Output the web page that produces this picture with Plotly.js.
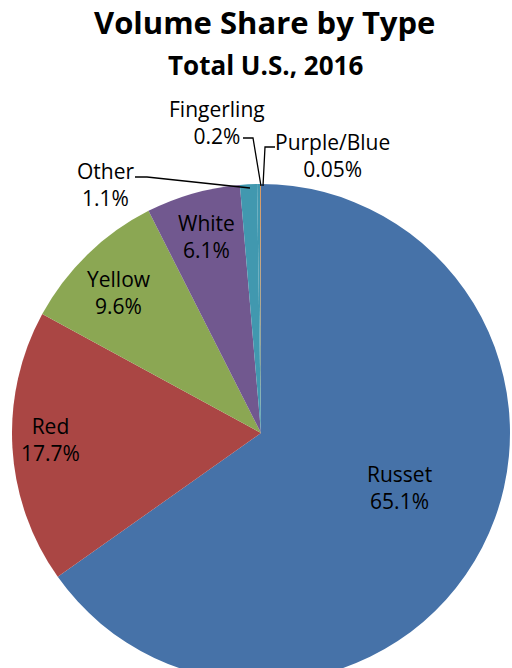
<!DOCTYPE html>
<html>
<head>
<meta charset="utf-8">
<script src="https://cdn.plot.ly/plotly-3.0.1.min.js"></script>
<style>
html, body { margin:0; padding:0; overflow:hidden; background:#fff; }
#chart { width:512px; height:690px; }
</style>
</head>
<body>
<div id="chart"></div>
<script>
const types = ["Russet", "Red", "Yellow", "White", "Other", "Fingerling", "Purple/Blue"];
const shares = [65.1, 17.7, 9.6, 6.1, 1.1, 0.2, 0.05];
const sliceColors = ["#4672A8", "#AA4644", "#8BA753", "#71588F", "#4198AF", "#4198AF", "#DB843D"];

// label anchor positions in pixels (center of text block)
const labelPx = [
  [399, 487], [50, 439], [119, 292], [206, 236], [105, 184], [217, 122], [332, 156]
];

const W = 512, H = 690, ML = 12, MR = 2, MT = 184, MB = 8;
const PW = W - ML - MR, PH = H - MT - MB;
const px2x = x => (x - ML) / PW;
const py2y = y => (H - MB - y) / PH;

function fmt(v) { return (v < 0.1 ? v.toFixed(2) : v.toFixed(1)) + "%"; }

const trace = {
  type: "pie",
  labels: types,
  values: shares,
  sort: false,
  direction: "clockwise",
  rotation: 0,
  textinfo: "none",
  hoverinfo: "label+value",
  marker: { colors: sliceColors, line: { color: "#ffffff", width: 0 } },
  showlegend: false
};

const font = "'Open Sans', Lato, sans-serif";
const annotations = types.map((t, i) => ({
  xref: "paper", yref: "paper",
  x: px2x(labelPx[i][0]), y: py2y(labelPx[i][1]),
  xanchor: "center", yanchor: "middle",
  text: t + "<br>" + fmt(shares[i]),
  showarrow: false,
  font: { family: font, size: 21, color: "#000" }
}));
annotations.push({
  xref: "paper", yref: "paper",
  x: px2x(265), y: py2y(65), xanchor: "center", yanchor: "middle",
  text: "<b>Total U.S., 2016</b>", showarrow: false,
  font: { family: font, size: 26, color: "#000" }
});

const lineStyle = { color: "#000", width: 1.3 };
const path = pts => "M " + pts.map(p => px2x(p[0]) + "," + py2y(p[1])).join(" L ");
const shapes = [
  { type: "path", xref: "paper", yref: "paper", path: path([[135,177],[147,177],[250,188]]), line: lineStyle },
  { type: "path", xref: "paper", yref: "paper", path: path([[243,138],[253,138],[261,186]]), line: lineStyle },
  { type: "path", xref: "paper", yref: "paper", path: path([[275,147],[265,147],[263,186]]), line: lineStyle }
];

const layout = {
  width: W, height: H,
  margin: { l: ML, r: MR, t: MT, b: MB },
  paper_bgcolor: "#fff",
  title: {
    text: "<b>Volume Share by Type</b>",
    font: { family: font, size: 31, color: "#000" },
    x: 0.517, xanchor: "center", y: 1 - 23 / H, yanchor: "middle", yref: "container"
  },
  annotations: annotations,
  shapes: shapes
};

Plotly.newPlot("chart", [trace], layout, { displayModeBar: false, staticPlot: true });
</script>
</body>
</html>
